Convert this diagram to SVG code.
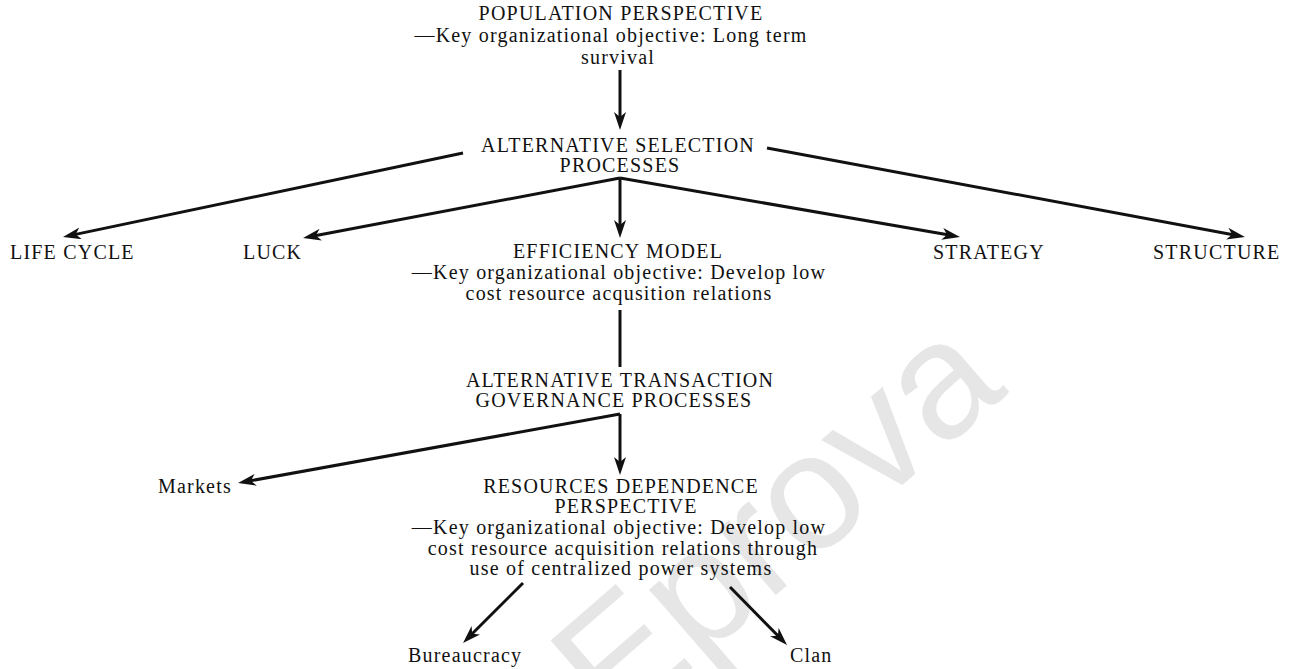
<svg xmlns="http://www.w3.org/2000/svg" width="1294" height="669" viewBox="0 0 1294 669">
  <style>
    text { font-family: "Liberation Serif", "Times New Roman", serif; font-size: 20px; letter-spacing: 1.2px; fill: #111; }
    .c { text-anchor: middle; }
    .wm { font-family: "Liberation Sans", Arial, sans-serif; font-size: 165px; letter-spacing: 0; fill: #e6e6e6; }
    .edge { fill: none; stroke: #111; stroke-width: 3; }
  </style>
  <defs>
    <marker id="arrow" markerUnits="userSpaceOnUse" markerWidth="18" markerHeight="12" refX="10" refY="6" orient="auto">
      <path d="M0,0 L18,6 L0,12 L5,6 Z" fill="#111"/>
    </marker>
  </defs>
  <rect width="1294" height="669" fill="#fff"/>

  <g id="watermark">
    <text class="wm" transform="translate(615,735) rotate(-41)">Eprova</text>
  </g>

  <g id="connectors">
    <path class="edge" d="M620,70 L620,122" marker-end="url(#arrow)"/>
    <path class="edge" d="M463,153 L70.8,235.4" marker-end="url(#arrow)"/>
    <path class="edge" d="M767,148 L1237.1,235.5" marker-end="url(#arrow)"/>
    <path class="edge" d="M620,178 L310.9,236.5" marker-end="url(#arrow)"/>
    <path class="edge" d="M620,178 L952.1,235.6" marker-end="url(#arrow)"/>
    <path class="edge" d="M620,178 L620,230" marker-end="url(#arrow)"/>
    <path class="edge" d="M620,310 L620,367"/>
    <path class="edge" d="M620,414 L620,467" marker-end="url(#arrow)"/>
    <path class="edge" d="M620,414 L245.9,481.6" marker-end="url(#arrow)"/>
    <path class="edge" d="M523,583 L468.7,637.3" marker-end="url(#arrow)"/>
    <path class="edge" d="M730,587 L781.4,639.3" marker-end="url(#arrow)"/>
  </g>

  <g id="population-perspective">
    <text class="c" x="621" y="20">POPULATION PERSPECTIVE</text>
    <text class="c" x="611" y="42">—Key organizational objective: Long term</text>
    <text class="c" x="618" y="64">survival</text>
  </g>

  <g id="alternative-selection">
    <text class="c" x="618" y="152">ALTERNATIVE SELECTION</text>
    <text class="c" x="620" y="172">PROCESSES</text>
  </g>

  <g id="life-cycle"><text x="10" y="259">LIFE CYCLE</text></g>
  <g id="luck"><text x="243" y="259">LUCK</text></g>
  <g id="strategy"><text x="933" y="259">STRATEGY</text></g>
  <g id="structure"><text x="1153" y="259">STRUCTURE</text></g>

  <g id="efficiency-model">
    <text class="c" x="618" y="258">EFFICIENCY MODEL</text>
    <text class="c" x="619" y="279">—Key organizational objective: Develop low</text>
    <text class="c" x="619" y="300">cost resource acqusition relations</text>
  </g>

  <g id="alternative-transaction">
    <text class="c" x="620" y="387">ALTERNATIVE TRANSACTION</text>
    <text class="c" x="614" y="407">GOVERNANCE PROCESSES</text>
  </g>

  <g id="markets"><text x="158" y="493">Markets</text></g>

  <g id="resources-dependence">
    <text class="c" x="621" y="493">RESOURCES DEPENDENCE</text>
    <text class="c" x="626" y="513">PERSPECTIVE</text>
    <text class="c" x="619" y="534">—Key organizational objective: Develop low</text>
    <text class="c" x="623" y="555">cost resource acquisition relations through</text>
    <text class="c" x="621" y="575">use of centralized power systems</text>
  </g>

  <g id="bureaucracy"><text x="408" y="662">Bureaucracy</text></g>
  <g id="clan"><text x="790" y="662">Clan</text></g>
</svg>
